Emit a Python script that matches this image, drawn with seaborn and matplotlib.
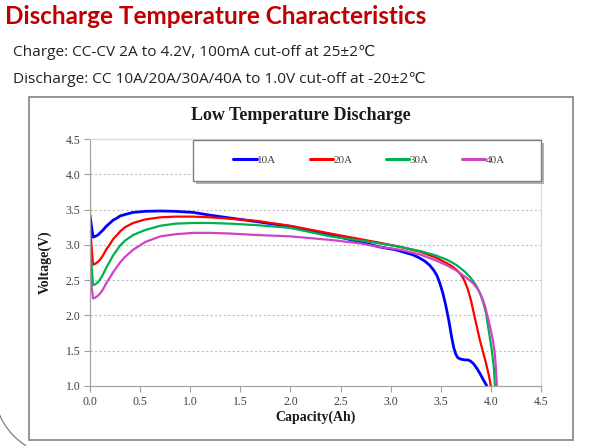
import numpy as np
import pandas as pd
import matplotlib
matplotlib.use("Agg")
import matplotlib.pyplot as plt
import matplotlib.patheffects as pe
from matplotlib.patches import Rectangle, Arc
import seaborn as sns

# ---- data ----
series_names = ["10A", "20A", "30A", "40A"]
series_colors = ["#0000FF", "#FF0000", "#00B050", "#CC44C8"]

cap_10a = [0.0, 0.03, 0.05, 0.08, 0.1, 0.13, 0.16, 0.2, 0.23, 0.27, 0.3, 0.35, 0.43,
           0.55, 0.7, 0.85, 1.03, 1.2, 1.4, 1.66, 2.0, 2.4, 2.7, 2.89, 3.05, 3.22,
           3.28, 3.34, 3.39, 3.43, 3.46, 3.49, 3.52, 3.55, 3.58, 3.61, 3.63, 3.65,
           3.67, 3.70, 3.74, 3.77, 3.80, 3.83, 3.86, 3.89, 3.92, 3.96]
volt_10a = [3.42, 3.11, 3.12, 3.14, 3.17, 3.21, 3.26, 3.31, 3.35, 3.38, 3.41, 3.43, 3.46,
            3.475, 3.48, 3.475, 3.46, 3.42, 3.38, 3.33, 3.26, 3.14, 3.04, 2.97, 2.93, 2.86,
            2.82, 2.77, 2.71, 2.64, 2.57, 2.46, 2.32, 2.14, 1.93, 1.68, 1.54, 1.45,
            1.40, 1.38, 1.37, 1.37, 1.35, 1.31, 1.25, 1.18, 1.10, 1.00]

cap_20a = [0.0, 0.03, 0.05, 0.08, 0.1, 0.13, 0.16, 0.2, 0.23, 0.27, 0.3, 0.35, 0.43,
           0.55, 0.7, 0.85, 1.03, 1.2, 1.4, 1.66, 2.0, 2.4, 2.7, 2.89, 3.1, 3.3,
           3.45, 3.56, 3.62, 3.67, 3.71, 3.74, 3.77, 3.80, 3.83, 3.86, 3.89, 3.92,
           3.95, 3.98, 4.0]
volt_20a = [3.25, 2.72, 2.73, 2.76, 2.79, 2.85, 2.93, 3.01, 3.08, 3.14, 3.19, 3.25, 3.31,
            3.36, 3.39, 3.40, 3.40, 3.39, 3.37, 3.34, 3.27, 3.16, 3.08, 3.03, 2.97, 2.90,
            2.82, 2.74, 2.69, 2.63, 2.56, 2.48, 2.37, 2.22, 2.03, 1.84, 1.65, 1.49,
            1.33, 1.15, 1.00]

cap_30a = [0.0, 0.03, 0.05, 0.08, 0.1, 0.13, 0.16, 0.2, 0.23, 0.27, 0.3, 0.35, 0.43,
           0.55, 0.7, 0.85, 1.03, 1.2, 1.4, 1.66, 2.0, 2.4, 2.7, 2.89, 3.1, 3.3,
           3.45, 3.56, 3.65, 3.74, 3.80, 3.85, 3.89, 3.92, 3.95, 3.97, 3.99, 4.01,
           4.03, 4.04]
volt_30a = [3.0, 2.43, 2.44, 2.47, 2.51, 2.58, 2.67, 2.77, 2.85, 2.93, 2.99, 3.06, 3.14,
            3.21, 3.27, 3.30, 3.31, 3.31, 3.30, 3.28, 3.24, 3.12, 3.06, 3.02, 2.97, 2.91,
            2.85, 2.79, 2.72, 2.62, 2.53, 2.43, 2.32, 2.20, 2.04, 1.86, 1.68, 1.50,
            1.25, 1.00]

cap_40a = [0.0, 0.0, 0.03, 0.05, 0.08, 0.1, 0.13, 0.16, 0.2, 0.23, 0.27, 0.3, 0.35,
           0.43, 0.55, 0.7, 0.85, 1.03, 1.2, 1.4, 1.66, 2.0, 2.4, 2.7, 2.89, 3.1,
           3.3, 3.45, 3.56, 3.65, 3.74, 3.82, 3.87, 3.91, 3.94, 3.97, 3.99, 4.02,
           4.04, 4.05, 4.06]
volt_40a = [4.2, 2.6, 2.24, 2.25, 2.28, 2.31, 2.37, 2.45, 2.54, 2.61, 2.69, 2.75, 2.83,
            2.93, 3.04, 3.12, 3.15, 3.17, 3.17, 3.16, 3.14, 3.12, 3.07, 3.02, 2.97, 2.93,
            2.86, 2.78, 2.71, 2.64, 2.55, 2.46, 2.37, 2.26, 2.14, 1.97, 1.85, 1.65,
            1.45, 1.25, 1.00]

x_ticks = [0.0, 0.5, 1.0, 1.5, 2.0, 2.5, 3.0, 3.5, 4.0, 4.5]
y_ticks = [1.0, 1.5, 2.0, 2.5, 3.0, 3.5, 4.0, 4.5]

frames = []
for name, c, v in zip(series_names, [cap_10a, cap_20a, cap_30a, cap_40a],
                      [volt_10a, volt_20a, volt_30a, volt_40a]):
    frames.append(pd.DataFrame({"Capacity": c, "Voltage": v, "Current": name}))
df = pd.concat(frames, ignore_index=True)

# ---- style ----
sns.set_style("white")
serif = ["Liberation Serif", "DejaVu Serif"]
sans = ["Open Sans", "DejaVu Sans"]
tick_color = "#404040"

fig = plt.figure(figsize=(5.99, 4.46), dpi=100)

# header text
fig.text(5 / 599, 1 - 17 / 446, "Discharge Temperature Characteristics",
         family=["Lato", "DejaVu Sans"], fontweight="bold", fontsize=17.5,
         color="#C00000", va="center")
fig.text(13 / 599, 1 - 52 / 446, "Charge: CC-CV 2A to 4.2V, 100mA cut-off at 25\u00b12\u2103",
         family=sans, fontsize=11.1, color="#222222", va="center")
fig.text(13 / 599, 1 - 79 / 446, "Discharge: CC 10A/20A/30A/40A to 1.0V cut-off at -20\u00b12\u2103",
         family=sans, fontsize=11.1, color="#222222", va="center")

# chart frame
fig.patches.append(Rectangle((29 / 599, 1 - 440 / 446), 544 / 599, 343 / 446,
                             transform=fig.transFigure, fill=False,
                             edgecolor="#8C8C8C", linewidth=1.3))
# slide decoration arc bottom-left
fig.patches.append(Arc((62 / 599, 1 - 388 / 446), 2 * 68 / 599, 2 * 68 / 446,
                       theta1=185, theta2=245, transform=fig.transFigure,
                       color="#7F7F7F", linewidth=0.9))

fig.text(301 / 599, 1 - 116 / 446, "Low Temperature Discharge", family=serif,
         fontweight="bold", fontsize=13, color="#1a1a1a", ha="center", va="center")

ax = fig.add_axes([90 / 599, 1 - 386 / 446, 451 / 599, 247 / 446])

sns.lineplot(data=df, x="Capacity", y="Voltage", hue="Current", sort=False,
             palette=dict(zip(series_names, series_colors)), estimator=None,
             ax=ax, legend=False)
for line, lw in zip(ax.get_lines(), [2.0, 1.6, 1.6, 1.6]):
    line.set_linewidth(lw)
    line.set_solid_joinstyle("round")

ax.set_xlim(0, 4.5)
ax.set_ylim(1.0, 4.5)
ax.set_xticks(x_ticks)
ax.set_yticks(y_ticks)
ax.set_xticklabels([f"{t:.1f}" for t in x_ticks], family=serif, fontsize=8.5, color=tick_color)
ax.set_yticklabels([f"{t:.1f}" for t in y_ticks], family=serif, fontsize=8.5, color=tick_color)
ax.tick_params(axis="both", direction="out", length=4, width=0.8, color="#A0A0A0",
               bottom=True, left=True, pad=3)
ax.grid(axis="y", color="#BFBFBF", linestyle=(0, (2, 2)), linewidth=0.8)
ax.grid(axis="x", visible=False)
for side in ["left", "bottom", "right", "top"]:
    ax.spines[side].set_color("#A6A6A6")
    ax.spines[side].set_linewidth(0.9)
ax.spines["top"].set_color("#D9D9D9")
ax.spines["right"].set_color("#D9D9D9")

ax.set_xlabel("Capacity(Ah)", family=serif, fontweight="bold", fontsize=10, color="#1a1a1a",
              labelpad=2)
ax.set_ylabel("Voltage(V)", family=serif, fontweight="bold", fontsize=10, color="#1a1a1a",
              labelpad=10)

# legend box with shadow
lx0 = (193 - 90) / 451
ly0 = (386 - 181) / 247
lw_ = (541 - 193) / 451
lh_ = 41 / 247
box = Rectangle((lx0, ly0), lw_, lh_, transform=ax.transAxes, facecolor="white",
                edgecolor="#7F7F7F", linewidth=1.0, zorder=5, clip_on=False,
                path_effects=[pe.SimplePatchShadow(offset=(2.5, -2.5), shadow_rgbFace="#808080",
                                                   alpha=0.6), pe.Normal()])
ax.add_patch(box)
handles = [plt.Line2D([], [], color=c, linewidth=2.2) for c in series_colors]
leg = ax.legend(handles, series_names, loc="center", ncol=4,
                bbox_to_anchor=(lx0 + lw_ / 2 + 0.005, ly0 + lh_ / 2), frameon=False,
                handlelength=2.1, handletextpad=0.05, columnspacing=3.0,
                prop={"family": serif, "size": 8})
for t in leg.get_texts():
    t.set_color(tick_color)
leg.set_zorder(6)

fig.savefig("out.png", dpi=100)
